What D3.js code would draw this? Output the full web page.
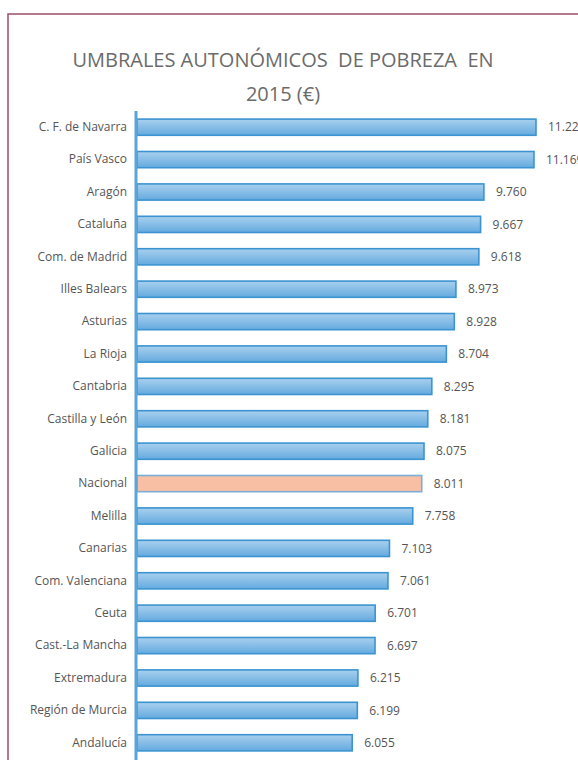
<!DOCTYPE html>
<html>
<head>
<meta charset="utf-8">
<script src="https://cdn.jsdelivr.net/npm/d3@7"></script>
<style>
  body { margin: 0; background: #fff; }
  svg { display: block; }
</style>
</head>
<body>
<svg id="viz"></svg>
<script>
// ----------------------- DATA
const regions = ['C. F. de Navarra', 'País Vasco', 'Aragón', 'Cataluña', 'Com. de Madrid',
  'Illes Balears', 'Asturias', 'La Rioja', 'Cantabria', 'Castilla y León', 'Galicia',
  'Nacional', 'Melilla', 'Canarias', 'Com. Valenciana', 'Ceuta', 'Cast.-La Mancha',
  'Extremadura', 'Región de Murcia', 'Andalucía'];
const thresholds = [11226, 11169, 9760, 9667, 9618, 8973, 8928, 8704, 8295, 8181, 8075,
  8011, 7758, 7103, 7061, 6701, 6697, 6215, 6199, 6055];
const valueLabels = ['11.226', '11.169', '9.760', '9.667', '9.618', '8.973', '8.928', '8.704',
  '8.295', '8.181', '8.075', '8.011', '7.758', '7.103', '7.061', '6.701', '6.697',
  '6.215', '6.199', '6.055'];
const titleLines = ['UMBRALES AUTONÓMICOS  DE POBREZA  EN', '2015 (€)'];
const highlight = 'Nacional';

// ----------------------- SETTINGS
const width = 578, height = 760;
const margin = { top: 111, left: 137, bottom: 2 };

const svg = d3.select('#viz')
  .attr('width', width)
  .attr('height', height);

// frame (maroon line top + left)
svg.append('path')
  .attr('d', `M${width},14 H8 V${height}`)
  .attr('fill', 'none')
  .attr('stroke', '#9c4d66')
  .attr('stroke-width', 1.5);

// defs: bar gradient
const grad = svg.append('defs').append('linearGradient')
  .attr('id', 'barGrad')
  .attr('x1', 0).attr('y1', 0).attr('x2', 0).attr('y2', 1);
grad.append('stop').attr('offset', '0%').attr('stop-color', '#a9d0ee');
grad.append('stop').attr('offset', '100%').attr('stop-color', '#64aadf');

// ----------------------- SCALES
const x = d3.scaleLinear()
  .domain([0, 11226])
  .range([margin.left, 536]);

const y = d3.scaleBand()
  .domain(regions)
  .range([margin.top, 759])
  .paddingInner(0.5)
  .paddingOuter(0.25);

// ----------------------- TITLE
svg.append('g')
  .selectAll('text')
  .data(titleLines)
  .enter().append('text')
  .attr('x', 283)
  .attr('y', (d, i) => 67 + i * 34)
  .attr('text-anchor', 'middle')
  .style('font-family', '"Open Sans", sans-serif')
  .style('font-size', '20px')
  .style('fill', '#6b6b6b')
  .style('white-space', 'pre')
  .text(d => d);

// ----------------------- BARS
svg.selectAll('.bar')
  .data(regions)
  .enter().append('rect')
  .attr('class', 'bar')
  .attr('x', x(0))
  .attr('y', d => y(d))
  .attr('width', (d, i) => x(thresholds[i]) - x(0))
  .attr('height', y.bandwidth())
  .attr('fill', d => d === highlight ? '#f8bfa5' : 'url(#barGrad)')
  .attr('stroke', d => d === highlight ? '#7aaed8' : '#3b94d1')
  .attr('stroke-width', 1.6);

// value labels
svg.selectAll('.val')
  .data(regions)
  .enter().append('text')
  .attr('class', 'val')
  .attr('x', (d, i) => x(thresholds[i]) + 12)
  .attr('y', d => y(d) + y.bandwidth() / 2)
  .attr('dy', '0.35em')
  .style('font-family', '"Open Sans", sans-serif')
  .style('font-size', '12px')
  .style('fill', '#555')
  .text((d, i) => valueLabels[i]);

// ----------------------- AXIS
const yAxis = d3.axisLeft(y).tickSize(0).tickPadding(9);
const axisG = svg.append('g')
  .attr('transform', `translate(${margin.left - 1},0)`)
  .call(yAxis);
axisG.select('.domain')
  .attr('d', `M0,${margin.top}V${height}`)
  .attr('stroke', '#5aa6da')
  .attr('stroke-width', 3);
axisG.selectAll('text')
  .style('font-family', '"Open Sans", sans-serif')
  .style('font-size', '12px')
  .style('fill', '#555');
</script>
</body>
</html>
